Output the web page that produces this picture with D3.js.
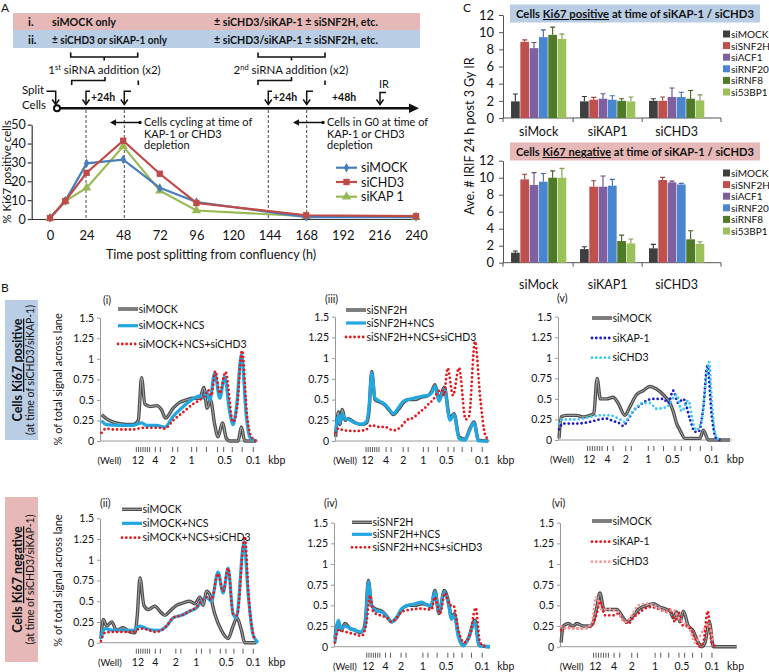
<!DOCTYPE html>
<html><head><meta charset="utf-8">
<script src="https://cdn.jsdelivr.net/npm/d3@7"></script>
<style>
body{margin:0;background:#fff}
svg{display:block}
text{font-family:Lato,'Liberation Sans',sans-serif;fill:#111}
</style></head>
<body><svg id="c" width="769" height="672"></svg>
<script>
// ================= DATA =================
// Panel A
const hours = [0,10,24,48,72,96,168,240];
const ki67_siMOCK = [0.5,9.5,29.5,31.5,16.5,9,1,1];
const ki67_siCHD3 = [0.5,9.5,24.5,41.5,24,8.5,2,1.5];
const ki67_siKAP1 = [0.5,9.5,16.5,38.5,15,4.5,1.5,1];
const hourTicks = [0,24,48,72,96,120,144,168,192,216,240];
const pctTicks = [0,10,20,30,40,50];
const seriesA = ["siMOCK","siCHD3","siKAP 1"];

// Panel C
const groupsC = ["siMock","siKAP1","siCHD3"];
const seriesC = ["siMOCK","siSNF2H","siACF1","siRNF20","siRNF8","si53BP1"];
const irifTicks = [0,2,4,6,8,10,12];
const posMean = [[1.94,8.87,8.14,9.42,9.69,9.22],[1.94,2.13,2.25,2.13,2.0,1.94],[2.0,2.0,2.44,2.44,2.25,2.05]];
const posErr  = [[0.85,0.23,0.66,0.85,0.9,0.55],[0.56,0.27,0.58,0.47,0.25,0.5],[0.25,0.44,1.06,0.56,0.95,0.65]];
const negMean = [[1.18,9.8,9.14,9.53,10.0,10.0],[1.6,8.94,8.94,9.06,2.55,2.27],[1.69,9.73,9.45,9.2,2.75,2.2]];
const negErr  = [[0.19,0.6,1.46,0.97,0.8,1.1],[0.28,0.71,1.26,0.74,0.7,0.51],[0.47,0.31,0.15,0.13,1.01,0.27]];

// Panel B  ([lane position %, % of total signal])
const bYTicks = [0,0.25,0.5,0.75,1,1.25,1.5];
const kbpLabels = ["(Well)","12","4","2","1","0.5","0.1"];
const bI_siMOCK = [[1.1,0.32],[4.2,0.27],[8.4,0.23],[12.6,0.21],[16.8,0.2],[21.1,0.2],[24.2,0.25],[26.3,0.77],[28.4,0.45],[31.6,0.42],[35.8,0.43],[38.9,0.38],[41.5,0.28],[46.3,0.4],[50.5,0.47],[54.7,0.5],[58.9,0.52],[63.2,0.52],[65.7,0.65],[67.8,0.4],[69.9,0.5],[72.6,0.2],[74.7,0.05],[77.5,0.22],[80,0.03],[82.1,0],[87.4,0],[89.5,0.17],[91.6,0],[98.9,0]];
const bI_siMOCK_NCS = [[1,0.25],[4,0.2],[12.6,0.19],[21,0.19],[26.3,0.22],[29.5,0.19],[35.8,0.19],[41,0.17],[46.3,0.3],[51.6,0.4],[57.9,0.5],[63.2,0.55],[65.3,0.52],[67.4,0.6],[69.5,0.5],[72.6,0.83],[75.8,0.52],[78.9,0.78],[82.1,0.35],[84.2,0.2],[86.3,0.4],[89.5,1.05],[92.6,0.3],[94.7,0.05],[98.9,0]];
const bI_siMOCK_NCS_siCHD3 = [[1,0.1],[4,0.15],[8.4,0.14],[21,0.14],[27.4,0.16],[37.9,0.16],[41,0.15],[46.3,0.25],[52.6,0.35],[58.9,0.45],[63.2,0.5],[66.3,0.55],[68.4,0.62],[70.5,0.55],[73,0.85],[75.8,0.58],[79.4,0.84],[84.2,0.23],[86.7,0.4],[89.9,1.1],[93.1,0.3],[95.8,0.05],[98.9,0]];

const bIII_siSNF2H = [[0.4,0.05],[2.2,0.35],[3.2,0.2],[4.7,0.38],[6.5,0.25],[8.6,0.27],[12.9,0.22],[17.2,0.2],[20.4,0.22],[21.9,0.35],[23.7,0.84],[25.8,0.5],[29,0.47],[32.3,0.43],[35.5,0.36],[37.6,0.32],[40.9,0.38],[44.1,0.46],[47.3,0.5],[51.6,0.5],[55.9,0.53],[60.2,0.55],[62.4,0.6],[64.5,0.68],[67.1,0.5],[70.5,0.65],[74.2,0.27],[76.8,0.33],[80,0.05],[83.9,0.02],[87.1,0.15],[89.7,0.23],[92.5,0.01],[98.9,0]];
const bIII_siSNF2H_NCS = [[0.4,0.1],[2.2,0.3],[3.2,0.22],[4.7,0.33],[6.5,0.27],[8.6,0.26],[12.9,0.22],[17.2,0.2],[20.4,0.24],[21.9,0.4],[23.7,0.82],[25.8,0.52],[29,0.48],[32.3,0.44],[35.5,0.37],[37.6,0.33],[40.9,0.4],[44.1,0.48],[47.3,0.5],[51.6,0.52],[55.9,0.54],[60.2,0.55],[62.4,0.58],[64.5,0.66],[67.1,0.48],[70.5,0.63],[74.2,0.25],[76.8,0.32],[80,0.03],[83.9,0.01],[87.1,0.14],[89.7,0.22],[92.5,0],[98.9,0]];
const bIII_siSNF2H_NCS_siCHD3 = [[0.4,0.1],[2.2,0.15],[5.4,0.13],[12.9,0.12],[19.4,0.13],[23.7,0.19],[28,0.17],[32.3,0.17],[35.5,0.14],[38.7,0.13],[43,0.18],[46.2,0.25],[50.5,0.28],[54.8,0.35],[58.1,0.4],[60.6,0.45],[63.4,0.5],[66.7,0.6],[68.8,0.62],[70.3,0.55],[72.7,0.88],[76.1,0.55],[80,0.88],[84.3,0.26],[86.5,0.3],[90.3,1.2],[93.8,0.5],[96.8,0.08],[98.9,0.02]];

const bV_siMOCK = [[0.6,0.02],[1.9,0.28],[4.8,0.3],[10.6,0.3],[14.4,0.28],[18.3,0.3],[20.6,0.32],[22.5,0.75],[24.4,0.5],[27.9,0.5],[31.7,0.52],[34.6,0.45],[38.5,0.3],[41.3,0.4],[45.2,0.55],[49,0.6],[52.9,0.65],[56.7,0.62],[60.6,0.55],[64.4,0.45],[66.3,0.35],[68.3,0.2],[70.2,0.12],[73.1,0.02],[81.7,0.02],[83.7,0.12],[86.5,0],[99,0]];
const bV_siKAP1 = [[0.6,0.13],[2.9,0.2],[10.6,0.2],[18.3,0.22],[24,0.25],[27.9,0.26],[31.7,0.23],[35.6,0.2],[37.5,0.17],[40.4,0.25],[43.3,0.35],[47.1,0.42],[51,0.48],[54.8,0.5],[60.6,0.5],[63.5,0.45],[66.3,0.6],[69.2,0.45],[72.1,0.5],[76,0.25],[78.8,0.1],[80.8,0.1],[83.7,0.4],[86,0.9],[88.5,0.3],[90.8,0.03],[93.3,0]];
const bV_siCHD3 = [[0.6,0.2],[2.9,0.25],[10.6,0.25],[18.3,0.28],[24,0.3],[29.8,0.3],[35.6,0.25],[38.5,0.22],[41.3,0.3],[45.2,0.4],[49,0.45],[52.9,0.45],[56.7,0.38],[62.5,0.4],[68.3,0.55],[71.2,0.35],[75,0.48],[77.9,0.2],[79.8,0.12],[82.7,0.25],[86.9,0.95],[88.8,0.4],[90.8,0.05],[93.3,0]];

const bII_siMOCK = [[0.6,0.05],[2.1,0.28],[4.2,0.2],[7.4,0.25],[10.5,0.15],[14.7,0.18],[18.9,0.13],[22.1,0.12],[23.6,0.33],[25.3,0.78],[27.8,0.45],[30.5,0.4],[34.7,0.44],[37.9,0.38],[41.1,0.33],[44.2,0.38],[48.4,0.45],[52.6,0.48],[56.8,0.5],[60,0.47],[63.2,0.55],[65.3,0.45],[67.4,0.62],[69.5,0.58],[72.6,0.35],[76.8,0.15],[81.1,0.05],[84.2,0.2],[86.7,0.3],[89.5,0.15],[91.6,0],[98.9,0]];
const bII_siMOCK_NCS = [[0.6,0.05],[3.2,0.17],[8.4,0.15],[21,0.15],[25.3,0.2],[29.5,0.17],[34.7,0.15],[37.9,0.15],[42.1,0.2],[46.3,0.3],[51.6,0.33],[56.8,0.38],[61.1,0.42],[64.2,0.5],[67.4,0.55],[70.5,0.5],[74.7,0.85],[77.9,0.6],[81.1,0.9],[84.2,0.35],[86.3,0.3],[91.2,1.22],[93.7,0.6],[96.8,0.1],[100,0]];
const bII_siMOCK_NCS_siCHD3 = [[0.6,0.02],[3.2,0.12],[8.4,0.13],[21,0.13],[25.3,0.17],[29.5,0.16],[34.7,0.13],[37.9,0.14],[42.1,0.2],[46.3,0.3],[51.6,0.33],[56.8,0.38],[61.1,0.43],[64.2,0.5],[67.4,0.55],[70.5,0.52],[74.7,0.83],[77.9,0.62],[81.1,0.9],[84.2,0.35],[86.7,0.33],[91.6,1.28],[94.3,0.5],[97.9,0.02]];

const bIV_siSNF2H = [[0.6,0.1],[2.8,0.3],[4.5,0.2],[7.1,0.28],[10.3,0.22],[13.5,0.2],[16.7,0.17],[18.8,0.2],[20.3,0.35],[22,0.8],[24.1,0.5],[27.4,0.45],[30.6,0.43],[33.8,0.37],[37,0.3],[40.2,0.35],[43.4,0.45],[47.6,0.5],[51.9,0.5],[56.2,0.52],[60.5,0.5],[62.2,0.48],[64.7,0.68],[67.3,0.4],[70.7,0.68],[73.3,0.55],[75.4,0.35],[77.1,0.4],[79.7,0.15],[82.9,0.02],[86.1,0.1],[90.4,0.32],[92.9,0.02],[100,0]];
const bIV_siSNF2H_NCS = [[0.6,0.05],[2.8,0.32],[4.5,0.22],[7.1,0.25],[10.3,0.22],[13.5,0.2],[16.7,0.18],[18.8,0.2],[20.3,0.3],[22,0.78],[24.1,0.5],[27.4,0.43],[30.6,0.42],[33.8,0.36],[37,0.3],[40.2,0.36],[43.4,0.46],[47.6,0.5],[51.9,0.52],[56.2,0.54],[60.5,0.5],[62.2,0.5],[64.7,0.66],[67.3,0.42],[70.7,0.66],[73.3,0.52],[75.4,0.33],[77.1,0.38],[79.7,0.12],[82.9,0.01],[86.1,0.1],[90.4,0.3],[92.9,0.01],[100,0]];
const bIV_siSNF2H_NCS_siCHD3 = [[0.6,0.05],[2.8,0.2],[7.1,0.18],[13.5,0.15],[17.7,0.13],[20.9,0.3],[23.1,0.62],[25.2,0.42],[29.5,0.38],[33.8,0.35],[37,0.3],[40.2,0.35],[43.4,0.42],[49.8,0.45],[56.2,0.46],[60.5,0.45],[62.6,0.45],[64.7,0.6],[67.9,0.4],[71.2,0.65],[74.4,0.5],[76.5,0.5],[79.7,0.2],[83.5,0.05],[87.2,0.15],[90.8,0.47],[93.6,0.05],[96.8,0]];

const bVI_siMOCK = [[0.6,0.05],[1.9,0.25],[4.7,0.28],[7.5,0.25],[9.4,0.28],[13.2,0.25],[17,0.25],[18.9,0.3],[20.8,0.48],[22.6,0.65],[24.9,0.45],[28.3,0.45],[32.1,0.45],[35.8,0.35],[37.7,0.3],[40.6,0.35],[44.3,0.45],[49.1,0.5],[52.8,0.52],[56.6,0.48],[60.4,0.45],[62.3,0.43],[64.2,0.35],[66,0.42],[67.9,0.3],[69.8,0.43],[72.6,0.25],[75.1,0.2],[78.3,0.05],[80.2,0],[82.1,0.05],[84.5,0.3],[86.8,0],[100,0]];
const bVI_siKAP1 = [[0.6,0.2],[3.8,0.23],[13.2,0.22],[17.9,0.25],[20.8,0.4],[22.6,0.55],[25.5,0.38],[30.2,0.38],[33,0.4],[35.8,0.32],[38.7,0.28],[41.5,0.35],[45.3,0.42],[50.9,0.48],[56.6,0.45],[60.4,0.42],[62.3,0.45],[65.1,0.3],[67,0.42],[69.8,0.25],[72.6,0.25],[76.4,0.1],[78.9,0],[81.1,0.05],[83.6,0.43],[85.8,0.05],[88.7,0]];
const bVI_siCHD3 = [[0.6,0.25],[3.8,0.22],[13.2,0.22],[17.9,0.28],[20.4,0.6],[23.6,0.45],[28.3,0.45],[32.1,0.43],[36.8,0.3],[40.6,0.38],[44.3,0.5],[49.1,0.52],[54.7,0.48],[60.4,0.42],[64.2,0.45],[67,0.35],[70.8,0.28],[73.6,0.2],[76.4,0.05],[81.1,0.2],[83.9,0.27],[86.8,0.05]];

// kbp label positions along each lane (%)
const kbpPos_i   = [6,24,35,46,58,79,97];
const kbpPos_iii = [6.5,21,33,44,57,72,95];
const kbpPos_v   = [2.3,18,28.5,39,52,66,88.5];
const kbpPos_ii  = [6.3,24,35,48,61,80,97];
const kbpPos_iv  = [7,22,33,43,57,72,95];
const kbpPos_vi  = [6.6,20,30.6,40.6,53.8,69,86];

// ================= DRAW =================
const svg = d3.select('#c');
svg.append('rect').attr('width',769).attr('height',672).attr('fill','#fff');
const PINK = '#e6b9b8', BLUE = '#b9cde5';

function txt(g, x, y, s, size, opts={}) {
  const t = g.append('text').attr('x',x).attr('y',y).attr('font-size',size).text(s);
  if (opts.bold) t.attr('font-weight','bold');
  if (opts.anchor) t.attr('text-anchor',opts.anchor);
  if (opts.fill) t.style('fill',opts.fill);
  if (opts.len) t.attr('textLength',opts.len).attr('lengthAdjust','spacingAndGlyphs');
  return t;
}

// ---------- Panel A ----------
const A = svg.append('g');
txt(A, 1, 12, 'A', 12);
A.append('rect').attr('x',13).attr('y',13).attr('width',407).attr('height',17).attr('fill',PINK);
A.append('rect').attr('x',13).attr('y',30).attr('width',407).attr('height',18).attr('fill',BLUE);
txt(A, 28, 26, 'i.', 11.5, {bold:true});
txt(A, 52, 26, 'siMOCK only', 11.5, {bold:true, len:64});
txt(A, 214, 26, '± siCHD3/siKAP-1 ± siSNF2H, etc.', 11.5, {bold:true, len:164});
txt(A, 28, 44, 'ii.', 11.5, {bold:true});
txt(A, 52, 44, '± siCHD3 or siKAP-1 only', 11.5, {bold:true, len:115});
txt(A, 214, 44, '± siCHD3/siKAP-1 ± siSNF2H, etc.', 11.5, {bold:true, len:164});

const ink = '#111';
[[70.7,137.7],[258,325]].forEach(([a,b])=>{
  const c=(a+b)/2;
  A.append('path').attr('d',`M${a},52.5V57H${b}V52.5M${c},57V60.5`).attr('fill','none').attr('stroke',ink).attr('stroke-width',1.6);
});
[[71.7,138.3],[258,325]].forEach(([a,b])=>{
  const c=(a+b)/2;
  A.append('path').attr('d',`M${c},77V80.5H${a}V85M${b},85V80.5`).attr('fill','none').attr('stroke',ink).attr('stroke-width',1.6);
});
function siRNAText(cx, sup) {
  const t = A.append('text').attr('x',cx).attr('y',74).attr('font-size',11.5).attr('text-anchor','middle');
  t.append('tspan').text(sup[0]);
  t.append('tspan').attr('font-size',7.5).attr('dy',-4).text(sup[1]);
  t.append('tspan').attr('dy',4).text(' siRNA addition (x2)');
}
siRNAText(104.5,['1','st']);
siRNAText(291,['2','nd']);

// timeline
A.append('line').attr('x1',57).attr('x2',412).attr('y1',108.3).attr('y2',108.3).attr('stroke',ink).attr('stroke-width',2.4);
A.append('path').attr('d','M409,103.5L419,108.3L409,113Z').attr('fill',ink);
A.append('circle').attr('cx',57).attr('cy',108.3).attr('r',3).attr('fill','#fff').attr('stroke',ink).attr('stroke-width',2);
function downArrow(x, top, tip, stubTo) {
  A.append('path').attr('d',`M${stubTo},${top}H${x}V${tip}`).attr('fill','none').attr('stroke',ink).attr('stroke-width',1.5);
  A.append('path').attr('d',`M${x-3.5},${tip-5}L${x},${tip}L${x+3.5},${tip-5}`).attr('fill','none').attr('stroke',ink).attr('stroke-width',1.5);
}
downArrow(55.7, 91.3, 104.5, 46.5);
downArrow(86, 91.3, 104.5, 90);
downArrow(124.3, 91.3, 104.5, 131);
downArrow(268.3, 91.3, 104.5, 272);
downArrow(306.7, 91.3, 104.5, 313);
downArrow(380, 92.5, 104.5, 386);
txt(A, 22, 94, 'Split', 11.5);
txt(A, 22, 109, 'Cells', 11.5);
txt(A, 91, 101, '+24h', 10.5, {bold:true});
txt(A, 273, 101, '+24h', 10.5, {bold:true});
txt(A, 332, 101, '+48h', 10.5, {bold:true});
txt(A, 379, 88, 'IR', 11);

// dashed guide lines
[86,124.3,268.3,306.7].forEach(x=>{
  A.append('line').attr('x1',x).attr('x2',x).attr('y1',110).attr('y2',219).attr('stroke','#333').attr('stroke-width',0.9).attr('stroke-dasharray','3,2');
});
function dblArrow(x1,x2,y){
  A.append('line').attr('x1',x1+2).attr('x2',x2).attr('y1',y).attr('y2',y).attr('stroke',ink).attr('stroke-width',1.5);
  A.append('path').attr('d',`M${x1+6},${y-3.2}L${x1},${y}L${x1+6},${y+3.2}Z`).attr('fill',ink);
  A.append('circle').attr('cx',x2).attr('cy',y).attr('r',1.7).attr('fill',ink);
}
dblArrow(110,140,122.5);
dblArrow(293,323,122.5);
[['Cells cycling at time of',126],['KAP-1 or CHD3',137.5],['depletion',149]].forEach(([s,y])=>txt(A,144,y,s,11));
[['Cells in G0 at time of',126],['KAP-1 or CHD3',137.5],['depletion',149]].forEach(([s,y])=>txt(A,327,y,s,11));

// chart A
const xA = d3.scaleLinear().domain([-12,240]).range([31.7,416]);
const yA = d3.scaleLinear().domain([0,50]).range([219,124.7]);
const axA = A.append('g').attr('transform','translate(31.7,0)')
  .call(d3.axisLeft(yA).tickValues(pctTicks).tickSize(4).tickSizeOuter(0).tickPadding(2));
const axAx = A.append('g').attr('transform','translate(0,219)')
  .call(d3.axisBottom(xA).tickValues(hourTicks).tickSize(0).tickSizeOuter(0).tickPadding(12));
[axA,axAx].forEach(a=>{a.selectAll('path,line').attr('stroke','#333').attr('stroke-width',1.2);a.selectAll('text').attr('font-size',13).style('font-family','Lato,sans-serif').style('fill','#111');});
axA.selectAll('text').attr('font-size',12.5);
axAx.select('.domain').attr('d','M31.7,0.5H420');
A.append('text').attr('transform','translate(10.5,172) rotate(-90)').attr('text-anchor','middle').attr('font-size',11.5).text('% Ki67 positive cells');
txt(A, 211, 259, 'Time post splitting from confluency (h)', 12.5, {anchor:'middle'});

const colA = ['#4a7ebb','#be4b48','#98b954'];
const symA = [d3.symbolDiamond, d3.symbolSquare, d3.symbolTriangle];
const symSize = [26,40,38];
const dataA = [ki67_siMOCK, ki67_siCHD3, ki67_siKAP1];
const lineA = d3.line().x(d=>xA(d[0])).y(d=>yA(d[1]));
[2,0,1].forEach(k=>{
  const pts = hours.map((h,i)=>[h,dataA[k][i]]);
  A.append('path').attr('d',lineA(pts)).attr('fill','none').attr('stroke',colA[k]).attr('stroke-width',2.2);
  pts.forEach(p=>A.append('path').attr('d',d3.symbol(symA[k],symSize[k])()).attr('transform',`translate(${xA(p[0])},${yA(p[1])})`).attr('fill',colA[k]));
});
seriesA.forEach((s,k)=>{
  const y=[167.7,182,196.7][k];
  A.append('line').attr('x1',336).attr('x2',357).attr('y1',y).attr('y2',y).attr('stroke',colA[k]).attr('stroke-width',2.2);
  A.append('path').attr('d',d3.symbol(symA[k],symSize[k])()).attr('transform',`translate(346.5,${y})`).attr('fill',colA[k]);
  txt(A,361,y+4.5,s,12.5);
});

// ---------- Panel C ----------
const C = svg.append('g');
txt(C, 463, 12, 'C', 12);
const colC = ['#3f3f3f','#c0504d','#7e5fa0','#4a86cf','#4f7a28','#9bc15a'];
const xC = d3.scaleBand().domain(groupsC).range([503,721]).paddingInner(0.19).paddingOuter(0.175).align(0.32);
const xSub = d3.scaleBand().domain(seriesC).range([0,xC.bandwidth()]);
function barChart(y0, yTop, means, errs, boxFill, ki, legY0, catY, boxY) {
  const g = C.append('g');
  const y = d3.scaleLinear().domain([0,12]).range([y0,yTop]);
  g.append('rect').attr('x',510).attr('y',boxY).attr('width',250).attr('height',18).attr('fill',boxFill);
  const t = g.append('text').attr('x',635).attr('y',boxY+13.5).attr('text-anchor','middle').attr('font-size',10.5).attr('font-weight','bold')
    .attr('textLength',238).attr('lengthAdjust','spacingAndGlyphs');
  t.append('tspan').text('Cells ');
  t.append('tspan').attr('text-decoration','underline').text(ki);
  t.append('tspan').text(' at time of siKAP-1 / siCHD3');
  const ay = g.append('g').attr('transform','translate(503,0)').call(d3.axisLeft(y).tickValues(irifTicks).tickSize(4).tickSizeOuter(0).tickPadding(5));
  ay.selectAll('path,line').attr('stroke','#555');
  ay.selectAll('text').attr('font-size',13).style('fill','#111');
  g.append('line').attr('x1',503).attr('x2',721).attr('y1',y0).attr('y2',y0).attr('stroke','#555');
  [503, ...groupsC.slice(1).map(gr=>xC(gr)-(xC.step()-xC.bandwidth())/2), 721].forEach(x=>
    g.append('line').attr('x1',x).attr('x2',x).attr('y1',y0).attr('y2',y0+4).attr('stroke','#555'));
  groupsC.forEach((gr,gi)=>{
    seriesC.forEach((s,si)=>{
      const x = xC(gr)+xSub(s), w = xSub.bandwidth();
      g.append('rect').attr('x',x+0.3).attr('y',y(means[gi][si])).attr('width',w-0.6).attr('height',y0-y(means[gi][si])).attr('fill',colC[si]);
      const cx = x+w/2, top = y(means[gi][si]+errs[gi][si]);
      g.append('path').attr('d',`M${cx},${y(means[gi][si])}V${top}M${cx-2.5},${top}H${cx+2.5}`).attr('stroke',d3.color(colC[si]).darker(0.6)).attr('stroke-width',1.1).attr('fill','none');
    });
    txt(g, xC(gr)+xC.bandwidth()/2, catY, gr, 12.5, {anchor:'middle'});
  });
  seriesC.forEach((s,si)=>{
    const yy = legY0 + si*11.6;
    g.append('rect').attr('x',723).attr('y',yy-3.5).attr('width',7).attr('height',7).attr('fill',colC[si]);
    txt(g, 731, yy+4, s, 10);
  });
}
barChart(118, 15, posMean, posErr, BLUE, 'Ki67 positive', 34, 136, 4.5);
barChart(262.7, 160.7, negMean, negErr, PINK, 'Ki67 negative', 173, 289, 142.5);
C.append('text').attr('transform','translate(474,136) rotate(-90)').attr('text-anchor','middle').attr('font-size',12.5).text('Ave. # IRIF 24 h post 3 Gy IR');

// ---------- Panel B ----------
const B = svg.append('g');
txt(B, 1, 292, 'B', 12);
function sideBox(y1, y2, fill, word) {
  B.append('rect').attr('x',5).attr('y',y1).attr('width',33).attr('height',y2-y1).attr('fill',fill);
  const cy=(y1+y2)/2;
  const t = B.append('text').attr('transform',`translate(22,${cy}) rotate(-90)`).attr('text-anchor','middle').attr('font-size',12.5).attr('font-weight','bold');
  t.append('tspan').text('Cells ');
  t.append('tspan').attr('text-decoration','underline').text('Ki67 '+word);
  B.append('text').attr('transform',`translate(34,${cy}) rotate(-90)`).attr('text-anchor','middle').attr('font-size',10.5).text('(at time of siCHD3/siKAP-1)');
}
sideBox(300, 440, BLUE, 'positive');
sideBox(497, 662, PINK, 'negative');

const STY = {
  gray:{c:'#4d4d4d'}, blue:{c:'#22a7e0'},
  red:{c:'#e3191f',dot:true}, navy:{c:'#1c1cc8',dot:true}, cyan:{c:'#3cc8ef',dot:true}, pink:{c:'#f29a9a',dot:true}
};
function styled(g, d, st) {
  const S = STY[st];
  if (S.dot) {
    g.append('path').attr('d',d).attr('fill','none').attr('stroke',S.c).attr('stroke-width',2.8).attr('stroke-linecap','round').attr('stroke-dasharray','0 4.3');
  } else if (st==='gray') {
    g.append('path').attr('d',d).attr('fill','none').attr('stroke',S.c).attr('stroke-width',3.4).attr('stroke-linejoin','round');
    g.append('path').attr('d',d).attr('fill','none').attr('stroke','#b8b8b8').attr('stroke-width',0.9);
  } else {
    g.append('path').attr('d',d).attr('fill','none').attr('stroke',S.c).attr('stroke-width',3.2).attr('stroke-linejoin','round');
  }
}
function panelB(L, series, kpos, ylab) {
  const g = B.append('g');
  const x = d3.scaleLinear().domain([0,100]).range([L.x0,L.x1]);
  const y = d3.scaleLinear().domain([0,1.5]).range([L.y0,L.yt]);
  const ay = g.append('g').attr('transform',`translate(${L.x0},0)`)
    .call(d3.axisLeft(y).tickValues(bYTicks).tickSize(3).tickSizeOuter(0).tickPadding(3).tickFormat(d=>String(d)));
  ay.selectAll('path,line').attr('stroke','#999');
  ay.selectAll('text').attr('font-size',10.5).style('fill','#111');
  g.append('line').attr('x1',L.x0).attr('x2',L.x1).attr('y1',L.y0).attr('y2',L.y0).attr('stroke','#999');
  const line = d3.line().x(d=>x(d[0])).y(d=>y(d[1])).curve(d3.curveMonotoneX);
  series.forEach(s=>styled(g, line(s.data), s.style));
  txt(g, L.tagX, L.tagY, L.tag, 10.5);
  series.forEach((s,i)=>{
    const yy = L.legY[i];
    styled(g, `M${L.legX},${yy}H${L.legX+20}`, s.style);
    txt(g, L.legX+20.5, yy+3.5, s.name, 10.5);
  });
  // kbp ruler
  const [pw,p12,p4,p2,p1,p05,p01] = kpos;
  const tk = [];
  for (let k=0;k<7;k++) tk.push(p12-1+k*1.4);
  [p4,p2,p1].forEach(p=>{tk.push(p); tk.push(p+3.2);});
  [0.24,0.42,0.52,0.66,0.82,1.0].forEach(f=>tk.push(p1+(p01-p1)*f));
  tk.forEach(u=>g.append('line').attr('x1',x(u)).attr('x2',x(u)).attr('y1',L.y0+6).attr('y2',L.y0+11).attr('stroke','#333').attr('stroke-width',0.8));
  kbpLabels.forEach((s,i)=>txt(g, x(kpos[i]), L.y0+23, s, i===0?9.5:10.5, {anchor:'middle'}));
  txt(g, x(p01)+15, L.y0+23, 'kbp', 10.5);
  if (ylab) g.append('text').attr('transform',`translate(62,${(L.y0+L.yt)/2}) rotate(-90)`).attr('text-anchor','middle').attr('font-size',11).text('% of total signal across lane');
}
panelB({x0:100,x1:258,y0:441,yt:317.7,tag:'(i)',tagX:103,tagY:304,legX:118,legY:[309,325.7,344]},
  [{name:'siMOCK',data:bI_siMOCK,style:'gray'},{name:'siMOCK+NCS',data:bI_siMOCK_NCS,style:'blue'},{name:'siMOCK+NCS+siCHD3',data:bI_siMOCK_NCS_siCHD3,style:'red'}], kbpPos_i, true);
panelB({x0:335,x1:490,y0:441,yt:316.7,tag:'(iii)',tagX:325,tagY:303,legX:346,legY:[310,323,337]},
  [{name:'siSNF2H',data:bIII_siSNF2H,style:'gray'},{name:'siSNF2H+NCS',data:bIII_siSNF2H_NCS,style:'blue'},{name:'siSNF2H+NCS+siCHD3',data:bIII_siSNF2H_NCS_siCHD3,style:'red'}], kbpPos_iii, false);
panelB({x0:558,x1:731.7,y0:440,yt:316.7,tag:'(v)',tagX:557,tagY:302,legX:592,legY:[318,338,357.7]},
  [{name:'siMOCK',data:bV_siMOCK,style:'gray'},{name:'siKAP-1',data:bV_siKAP1,style:'navy'},{name:'siCHD3',data:bV_siCHD3,style:'cyan'}], kbpPos_v, false);
panelB({x0:100,x1:258,y0:642.7,yt:518.3,tag:'(ii)',tagX:100,tagY:507,legX:122,legY:[509.3,523.3,537.7]},
  [{name:'siMOCK',data:bII_siMOCK,style:'gray'},{name:'siMOCK+NCS',data:bII_siMOCK_NCS,style:'blue'},{name:'siMOCK+NCS+siCHD3',data:bII_siMOCK_NCS_siCHD3,style:'red'}], kbpPos_ii, true);
panelB({x0:334,x1:490,y0:646.7,yt:522.7,tag:'(iv)',tagX:324,tagY:507,legX:352,legY:[522.3,534.3,547.3]},
  [{name:'siSNF2H',data:bIV_siSNF2H,style:'gray'},{name:'siSNF2H+NCS',data:bIV_siSNF2H_NCS,style:'blue'},{name:'siSNF2H+NCS+siCHD3',data:bIV_siSNF2H_NCS_siCHD3,style:'red'}], kbpPos_iv, false);
panelB({x0:560,x1:736.7,y0:646.7,yt:522.7,tag:'(vi)',tagX:552,tagY:507,legX:592,legY:[521,541.7,561.7]},
  [{name:'siMOCK',data:bVI_siMOCK,style:'gray'},{name:'siKAP-1',data:bVI_siKAP1,style:'red'},{name:'siCHD3',data:bVI_siCHD3,style:'pink'}], kbpPos_vi, false);
</script></body></html>
